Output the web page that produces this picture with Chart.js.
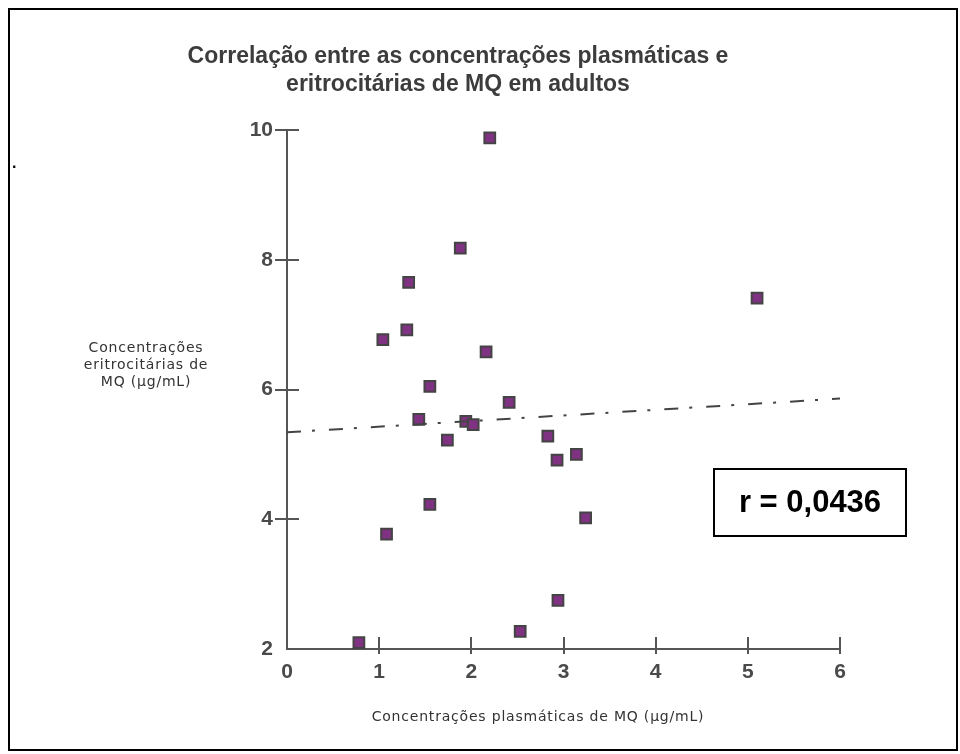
<!DOCTYPE html>
<html>
<head>
<meta charset="utf-8">
<script src="https://cdn.jsdelivr.net/npm/chart.js@4.4.0/dist/chart.umd.min.js"></script>
<style>
  html, body { margin: 0; padding: 0; background: #fff; }
  canvas { display: block; }
</style>
</head>
<body>
<canvas id="chart" width="960" height="754"></canvas>
<script>
// chart texts
var titleLines  = ['Correlação entre as concentrações plasmáticas e', 'eritrocitárias de MQ em adultos']
var xLabel      = 'Concentrações plasmáticas de MQ (µg/mL)'
var yLabelLines = ['Concentrações', 'eritrocitárias de', 'MQ (µg/mL)']
var rText       = 'r = 0,0436'

// data
var plasma  = [2.20, 1.88, 1.32, 1.30, 1.04, 2.16, 1.55, 2.41, 1.43, 1.94, 2.02, 1.74, 2.83, 2.93, 3.14, 1.55, 3.24, 1.08, 2.94, 2.53, 0.78, 5.10]
var eritro  = [9.88, 8.18, 7.65, 6.92, 6.77, 6.58, 6.05, 5.80, 5.54, 5.51, 5.46, 5.22, 5.28, 4.91, 5.00, 4.23, 4.02, 3.77, 2.75, 2.27, 2.10, 7.41]
var trendX  = [0, 6]
var trendY  = [5.34, 5.86]
var xTicks  = [0, 1, 2, 3, 4, 5, 6]
var yTicks  = [2, 4, 6, 8, 10]

var points = plasma.map(function (x, i) { return { x: x, y: eritro[i] } })
var trend  = trendX.map(function (x, i) { return { x: x, y: trendY[i] } })

// frame, tick marks and free texts
var decor = {
  id: 'decor',
  beforeDraw: function (chart) {
    var ctx = chart.ctx
    ctx.save()
    ctx.fillStyle = '#fff'
    ctx.fillRect(0, 0, chart.width, chart.height)
    ctx.strokeStyle = '#000'
    ctx.lineWidth = 2
    ctx.strokeRect(9, 9, 948, 741)
    ctx.restore()
  },
  beforeDatasetsDraw: function (chart) {
    var ctx = chart.ctx
    var xs = chart.scales.x, ys = chart.scales.y
    var a = chart.chartArea
    ctx.save()
    ctx.strokeStyle = '#555'
    ctx.lineWidth = 2
    ctx.beginPath()
    xTicks.forEach(function (v) {
      if (v === 0) return
      var px = Math.round(xs.getPixelForValue(v))
      ctx.moveTo(px, a.bottom - 12)
      ctx.lineTo(px, a.bottom + 5)
    })
    yTicks.forEach(function (v) {
      if (v === 2) return
      var py = Math.round(ys.getPixelForValue(v))
      ctx.moveTo(a.left - 12, py)
      ctx.lineTo(a.left + 12, py)
    })
    ctx.stroke()
    ctx.restore()
  },
  afterDraw: function (chart) {
    var ctx = chart.ctx
    ctx.save()
    ctx.textAlign = 'center'
    ctx.textBaseline = 'middle'

    ctx.fillStyle = '#3c3c3c'
    ctx.font = 'bold 23px "Liberation Sans", Arial, sans-serif'
    ctx.fillText(titleLines[0], 458, 57)
    ctx.fillText(titleLines[1], 458, 85)

    ctx.fillStyle = '#333'
    ctx.font = '14px "DejaVu Sans", sans-serif'
    ctx.letterSpacing = '0.8px'
    ctx.fillText(xLabel, 538, 717)
    yLabelLines.forEach(function (t, i) {
      ctx.fillText(t, 146, 348 + i * 17)
    })
    ctx.letterSpacing = '0px'

    // correlation box
    ctx.fillStyle = '#fff'
    ctx.fillRect(714, 469, 192, 67)
    ctx.strokeStyle = '#000'
    ctx.lineWidth = 2
    ctx.strokeRect(714, 469, 192, 67)
    ctx.fillStyle = '#000'
    ctx.font = 'bold 31px "Liberation Sans", Arial, sans-serif'
    ctx.fillText(rText, 810, 503)

    ctx.font = 'bold 16px "Liberation Sans", Arial, sans-serif'
    ctx.textAlign = 'left'
    ctx.fillText('.', 12, 164)
    ctx.restore()
  }
}

var tickFont = { family: '"Liberation Sans", Arial, sans-serif', size: 21, weight: 'bold' }

new Chart(document.getElementById('chart'), {
  type: 'scatter',
  data: {
    datasets: [{
      type: 'line',
      data: trend,
      borderColor: '#444',
      borderWidth: 2,
      borderDash: [14, 11, 3, 14],
      pointRadius: 0,
      fill: false
    }, {
      data: points,
      pointStyle: 'rect',
      pointRadius: 7.6,
      pointHoverRadius: 7.6,
      backgroundColor: '#803282',
      borderColor: '#444',
      borderWidth: 2,
      clip: false
    }]
  },
  options: {
    responsive: false,
    animation: false,
    devicePixelRatio: 1,
    layout: { padding: { left: 200, right: 120, top: 130, bottom: 0 } },
    plugins: {
      legend: { display: false },
      tooltip: { enabled: false }
    },
    scales: {
      x: {
        type: 'linear',
        min: 0, max: 6,
        afterFit: function (s) { s.height = 105 },
        afterBuildTicks: function (s) { s.ticks = xTicks.map(function (v) { return { value: v } }) },
        grid: { display: false, drawTicks: false, tickLength: 0 },
        border: { display: true, color: '#555', width: 2 },
        ticks: { font: tickFont, color: '#4a4a4a', padding: 11 }
      },
      y: {
        type: 'linear',
        min: 2, max: 10,
        afterFit: function (s) { s.width = 87 },
        afterBuildTicks: function (s) { s.ticks = yTicks.map(function (v) { return { value: v } }) },
        grid: { display: false, drawTicks: false, tickLength: 0 },
        border: { display: true, color: '#555', width: 2 },
        ticks: { font: tickFont, color: '#4a4a4a', padding: 14 }
      }
    }
  },
  plugins: [decor]
})
</script>
</body>
</html>
